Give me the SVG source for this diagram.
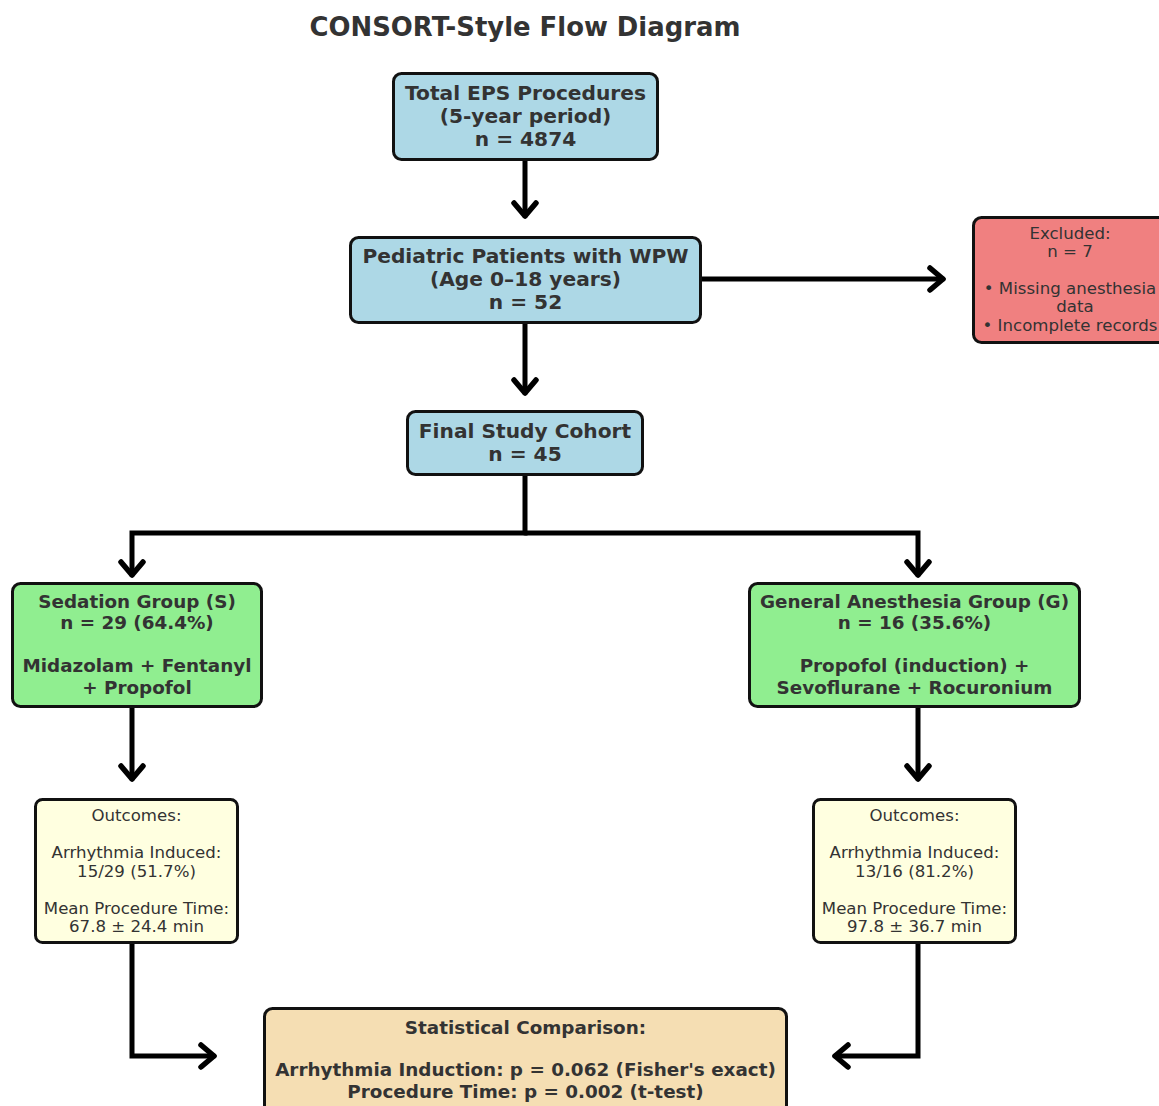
<svg xmlns="http://www.w3.org/2000/svg" width="1159" height="1106" viewBox="0 0 1159 1106">
<style>
text{font-family:"DejaVu Sans","Liberation Sans",sans-serif;fill:#333;text-anchor:middle}
.b{font-weight:bold}
.t{font-size:25.9px;font-weight:bold}
.l{font-size:20.2px}
.m{font-size:18.35px}
.s{font-size:16.6px}
.box{stroke:#111;stroke-width:3}
.blue{fill:#ADD8E6}.red{fill:#F08080}.green{fill:#90EE90}.yellow{fill:#FFFFE0}.wheat{fill:#F5DEB3}
.c{fill:none;stroke:#000;stroke-width:5;stroke-linecap:round;stroke-linejoin:miter}
</style>
<defs>
<marker id="ah" markerUnits="userSpaceOnUse" viewBox="-18 -16 22 32" markerWidth="22" markerHeight="32" refX="0" refY="0" orient="auto">
<path d="M-13,-11 L0,0 L-13,11" fill="none" stroke="#000" stroke-width="5.5" stroke-linecap="round" stroke-linejoin="round"/>
</marker>
</defs>
<rect width="1159" height="1106" fill="#fff"/>
<text class="t" x="525" y="36">CONSORT-Style Flow Diagram</text>

<g id="connectors">
<path class="c" d="M525,161 V216" marker-end="url(#ah)"/>
<path class="c" d="M701,279 H943" marker-end="url(#ah)"/>
<path class="c" d="M525,324 V393" marker-end="url(#ah)"/>
<path class="c" d="M525,476 V533 H132 V575" marker-end="url(#ah)"/>
<path class="c" d="M525,533 H918 V575" marker-end="url(#ah)"/>
<path class="c" d="M132,708 V779" marker-end="url(#ah)"/>
<path class="c" d="M918,708 V779" marker-end="url(#ah)"/>
<path class="c" d="M132,944 V1056 H214" marker-end="url(#ah)"/>
<path class="c" d="M918,944 V1056 H835" marker-end="url(#ah)"/>
</g>

<g id="total">
<rect class="box blue" x="393.5" y="73.5" width="264" height="86" rx="8"/>
<text class="l b" x="525.5" y="100">Total EPS Procedures</text>
<text class="l b" x="525.5" y="123">(5-year period)</text>
<text class="l b" x="525.5" y="146">n = 4874</text>
</g>

<g id="pediatric">
<rect class="box blue" x="350.5" y="237.5" width="350" height="85" rx="8"/>
<text class="l b" x="525.5" y="263">Pediatric Patients with WPW</text>
<text class="l b" x="525.5" y="286">(Age 0–18 years)</text>
<text class="l b" x="525.5" y="309">n = 52</text>
</g>

<g id="excluded">
<rect class="box red" x="973.5" y="217.5" width="196" height="125" rx="8"/>
<text class="s" x="1070" y="239">Excluded:</text>
<text class="s" x="1070" y="257">n = 7</text>
<text class="s" x="1070" y="294">• Missing anesthesia</text>
<text class="s" x="1075" y="312">data</text>
<text class="s" x="1070" y="331">• Incomplete records</text>
</g>

<g id="cohort">
<rect class="box blue" x="407.5" y="411.5" width="235" height="63" rx="8"/>
<text class="l b" x="525" y="438">Final Study Cohort</text>
<text class="l b" x="525" y="461">n = 45</text>
</g>

<g id="sedation">
<rect class="box green" x="12.5" y="583.5" width="249" height="123" rx="8"/>
<text class="m b" x="137" y="607.5">Sedation Group (S)</text>
<text class="m b" x="137" y="629">n = 29 (64.4%)</text>
<text class="m b" x="137" y="672">Midazolam + Fentanyl</text>
<text class="m b" x="137" y="694">+ Propofol</text>
</g>

<g id="general">
<rect class="box green" x="749.5" y="583.5" width="330" height="123" rx="8"/>
<text class="m b" x="914.5" y="607.5">General Anesthesia Group (G)</text>
<text class="m b" x="914.5" y="629">n = 16 (35.6%)</text>
<text class="m b" x="914.5" y="672">Propofol (induction) +</text>
<text class="m b" x="914.5" y="694">Sevoflurane + Rocuronium</text>
</g>

<g id="outcomes-s">
<rect class="box yellow" x="35.5" y="799.5" width="202" height="143" rx="7"/>
<text class="s" x="136.5" y="821">Outcomes:</text>
<text class="s" x="136.5" y="858">Arrhythmia Induced:</text>
<text class="s" x="136.5" y="876.5">15/29 (51.7%)</text>
<text class="s" x="136.5" y="913.5">Mean Procedure Time:</text>
<text class="s" x="136.5" y="932">67.8 ± 24.4 min</text>
</g>

<g id="outcomes-g">
<rect class="box yellow" x="813.5" y="799.5" width="202" height="143" rx="7"/>
<text class="s" x="914.5" y="821">Outcomes:</text>
<text class="s" x="914.5" y="858">Arrhythmia Induced:</text>
<text class="s" x="914.5" y="876.5">13/16 (81.2%)</text>
<text class="s" x="914.5" y="913.5">Mean Procedure Time:</text>
<text class="s" x="914.5" y="932">97.8 ± 36.7 min</text>
</g>

<g id="stats">
<rect class="box wheat" x="264.5" y="1008.5" width="522" height="110" rx="8"/>
<text class="m b" x="525.5" y="1033.5">Statistical Comparison:</text>
<text class="m b" x="525.5" y="1075.5">Arrhythmia Induction: p = 0.062 (Fisher's exact)</text>
<text class="m b" x="525.5" y="1097.5">Procedure Time: p = 0.002 (t-test)</text>
</g>
</svg>
